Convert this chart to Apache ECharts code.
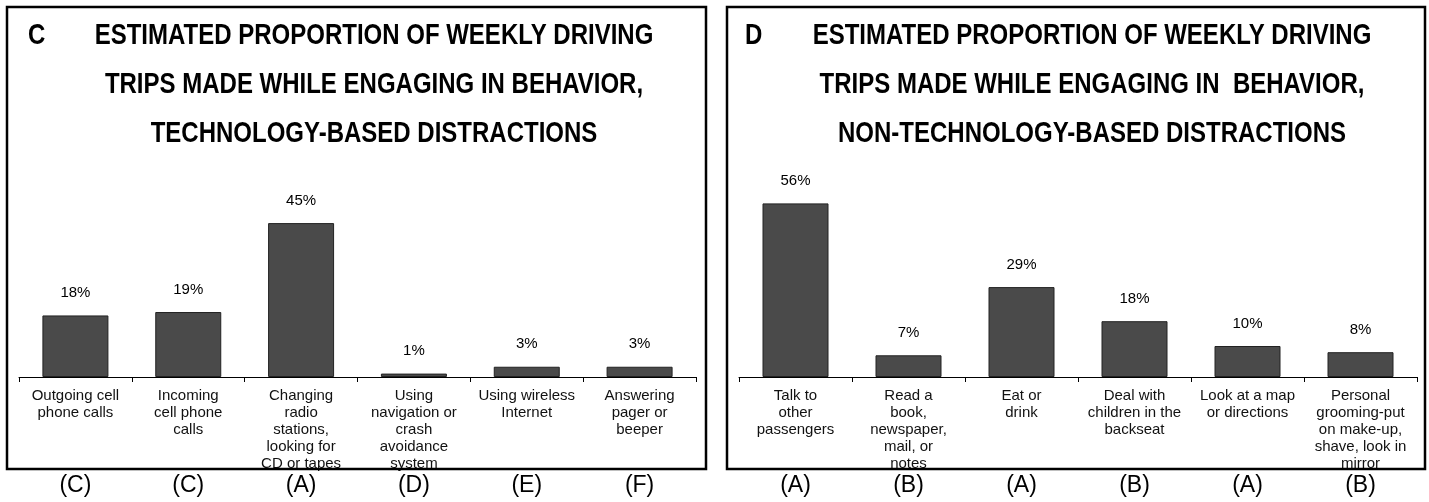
<!DOCTYPE html>
<html>
<head>
<meta charset="utf-8">
<script src="https://cdn.jsdelivr.net/npm/echarts@6/dist/echarts.min.js"></script>
<style>
html,body{margin:0;padding:0;background:#fff;}
#chart{width:1429px;height:502px;}
</style>
</head>
<body>
<div id="chart"></div>
<script>
// ---- Data ----
const titleC = "ESTIMATED PROPORTION OF WEEKLY DRIVING\nTRIPS MADE WHILE ENGAGING IN BEHAVIOR,\nTECHNOLOGY-BASED DISTRACTIONS";
const titleD = "ESTIMATED PROPORTION OF WEEKLY DRIVING\nTRIPS MADE WHILE ENGAGING IN  BEHAVIOR,\nNON-TECHNOLOGY-BASED DISTRACTIONS";
const categoriesC = [
  "Outgoing cell\nphone calls",
  "Incoming\ncell phone\ncalls",
  "Changing\nradio\nstations,\nlooking for\nCD or tapes",
  "Using\nnavigation or\ncrash\navoidance\nsystem",
  "Using wireless\nInternet",
  "Answering\npager or\nbeeper"
];
const valuesC = [18, 19, 45, 1, 3, 3];
const lettersC = ["(C)", "(C)", "(A)", "(D)", "(E)", "(F)"];

const categoriesD = [
  "Talk to\nother\npassengers",
  "Read a\nbook,\nnewspaper,\nmail, or\nnotes",
  "Eat or\ndrink",
  "Deal with\nchildren in the\nbackseat",
  "Look at a map\nor directions",
  "Personal\ngrooming-put\non make-up,\nshave, look in\nmirror"
];
const valuesD = [56, 7, 29, 18, 10, 8];
const lettersD = ["(A)", "(B)", "(A)", "(B)", "(A)", "(B)"];

// ---- Chart ----
const FONT = "'Liberation Sans Narrow', 'Arial Narrow', 'Liberation Sans', Arial, sans-serif";
const chart = echarts.init(document.getElementById('chart'), null, {renderer: 'canvas'});

function xCat(gridIndex, cats) {
  return {
    type: 'category', gridIndex, data: cats, position: 'bottom',
    axisLine: {show: true, lineStyle: {color: '#000', width: 1}},
    axisTick: {show: true, length: 5, lineStyle: {color: '#000'}},
    axisLabel: {interval: 0, margin: 10, fontFamily: FONT, fontSize: 15, lineHeight: 17, color: '#111'}
  };
}
function xLetters(gridIndex, letters) {
  return {
    type: 'category', gridIndex, data: letters, position: 'bottom',
    axisLine: {show: false}, axisTick: {show: false},
    axisLabel: {interval: 0, margin: 97, fontFamily: FONT, fontSize: 23, color: '#000'}
  };
}
function barSeries(idx, vals) {
  return {
    type: 'bar', xAxisIndex: idx, yAxisIndex: idx, data: vals, barWidth: 66,
    itemStyle: {color: '#4a4a4a', borderColor: '#222', borderWidth: 1},
    label: {show: true, position: 'top', distance: 15, formatter: '{c}%',
      fontFamily: FONT, fontSize: 15, color: '#000'},
    silent: true, animation: false
  };
}
function titleText(txt, cx) {
  return {
    type: 'text', x: cx, y: 11, scaleX: 0.80, z: 50,
    style: {text: txt, x: 0, y: 0, align: 'center', verticalAlign: 'top',
      font: "bold 30px " + FONT, lineHeight: 49, fill: '#000'}
  };
}
function letterText(txt, x) {
  return {
    type: 'text', x: x, y: 11, scaleX: 0.80, z: 50,
    style: {text: txt, x: 0, y: 0, align: 'left', verticalAlign: 'top',
      font: "bold 30px " + FONT, lineHeight: 49, fill: '#000'}
  };
}

const option = {
  animation: false,
  backgroundColor: '#fff',
  graphic: [
    letterText('C', 28),
    titleText(titleC, 374),
    letterText('D', 745),
    titleText(titleD, 1092),
    {type: 'rect', shape: {x: 7, y: 7, width: 699, height: 462}, style: {fill: 'none', stroke: '#000', lineWidth: 2.5}, z: 100},
    {type: 'rect', shape: {x: 727, y: 7, width: 698, height: 462}, style: {fill: 'none', stroke: '#000', lineWidth: 2.5}, z: 100}
  ],
  grid: [
    {left: 19, right: 1429 - 696, top: 377 - 171, bottom: 502 - 377},
    {left: 739, right: 1429 - 1417, top: 377 - 186, bottom: 502 - 377}
  ],
  xAxis: [
    xCat(0, categoriesC),
    xCat(1, categoriesD),
    xLetters(0, lettersC),
    xLetters(1, lettersD)
  ],
  yAxis: [
    {type: 'value', gridIndex: 0, min: 0, max: 50, show: false},
    {type: 'value', gridIndex: 1, min: 0, max: 60, show: false}
  ],
  series: [
    barSeries(0, valuesC),
    barSeries(1, valuesD)
  ]
};
chart.setOption(option);
</script>
</body>
</html>
